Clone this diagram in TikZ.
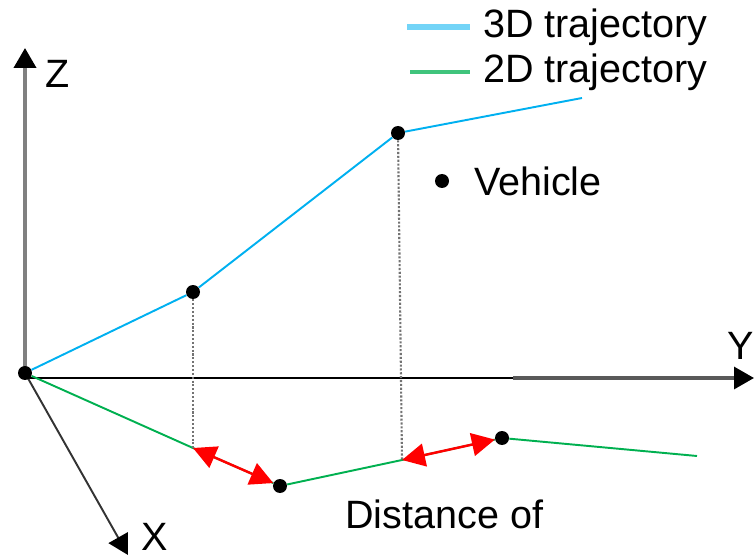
\documentclass[tikz,border=0pt]{standalone}
\usepackage{fontspec}
\setmainfont{Liberation Sans}
\usepackage{xcolor}
\definecolor{colTraj}{RGB}{0,176,240}
\definecolor{colGround}{RGB}{0,176,80}
\colorlet{colAxis}{black!50}
\colorlet{colProj}{black!55}
\usetikzlibrary{arrows.meta, positioning}

\begin{document}
\begin{tikzpicture}[x=0.02cm, y=-0.02cm,
	veh/.style={circle, fill=black, inner sep=0pt, minimum size=0.28cm},
	lbl/.style={font=\fontsize{22.5}{26}\selectfont, inner sep=0pt, anchor=west},
	axtip/.style={-{Triangle[length=0.4cm, width=0.44cm, color=black]}},
	dist/.style={red, line width=1.4pt, {Triangle[length=0.46cm, width=0.46cm]}-{Triangle[length=0.46cm, width=0.46cm]}}]
	\useasboundingbox (0,0) rectangle (754,557);
	% axes
	\coordinate (zEnd) at (25,48);
	\coordinate (yStart) at (25,378);
	\coordinate (yMid) at (513,378);
	\coordinate (yEnd) at (754,378);
	\coordinate (xEnd) at (128,555);
	\draw[colAxis, line width=2.2pt, axtip] (25,373) -- (zEnd);
	\draw[black, line width=1.6pt] (yStart) -- (yMid);
	\draw[black!65, line width=1.8pt, axtip] (yMid) -- (yEnd);
	\draw[black!80, line width=1.1pt, axtip] (25,373) -- (xEnd);
	\node[lbl] (zLabel) at (45,74) {Z};
	\node[lbl] (yLabel) at (727,346) {Y};
	\node[lbl] (xLabel) at (141,537) {X};
	% vehicle positions
	\node[veh] (origin) at (25,373) {};
	\node[veh] (veh1) at (193,292) {};
	\node[veh] (veh2) at (398,133) {};
	\coordinate (traj3End) at (582,98);
	\node[veh] (gnd1) at (280,486) {};
	\node[veh] (gnd2) at (502,438) {};
	\coordinate (traj2End) at (697,456);
	\coordinate (proj1) at (193,448);
	\coordinate (proj2) at (402,460);
	% trajectories
	\draw[colTraj, line width=1.1pt] (origin) -- (veh1) -- (veh2) -- (traj3End);
	\draw[colGround, line width=1.1pt] (origin) -- (proj1) -- (gnd1) -- (proj2) -- (gnd2) -- (traj2End);
	\draw[colProj, line width=1.2pt, densely dotted] (veh1) -- (proj1);
	\draw[colProj, line width=1.2pt, densely dotted] (veh2) -- (proj2);
	\draw[dist] (proj1) -- (gnd1);
	\draw[dist] (proj2) -- (gnd2);
	% legend
	\coordinate (leg3a) at (407,27);
	\coordinate (leg3b) at (470,27);
	\coordinate (leg2a) at (410,72);
	\coordinate (leg2b) at (470,72);
	\draw[colTraj!55, line width=3pt] (leg3a) -- (leg3b);
	\draw[colGround!75, line width=2.4pt] (leg2a) -- (leg2b);
	\node[lbl] (leg3) at (483,27) {3D trajectory};
	\node[lbl] (leg2) at (483,72) {2D trajectory};
	\node[veh] (legVeh) at (442,181) {};
	\node[lbl, right=14pt of legVeh] (legVehText) {Vehicle};
	\node[lbl] (distText) at (345,514) {Distance of};
\end{tikzpicture}
\end{document}
